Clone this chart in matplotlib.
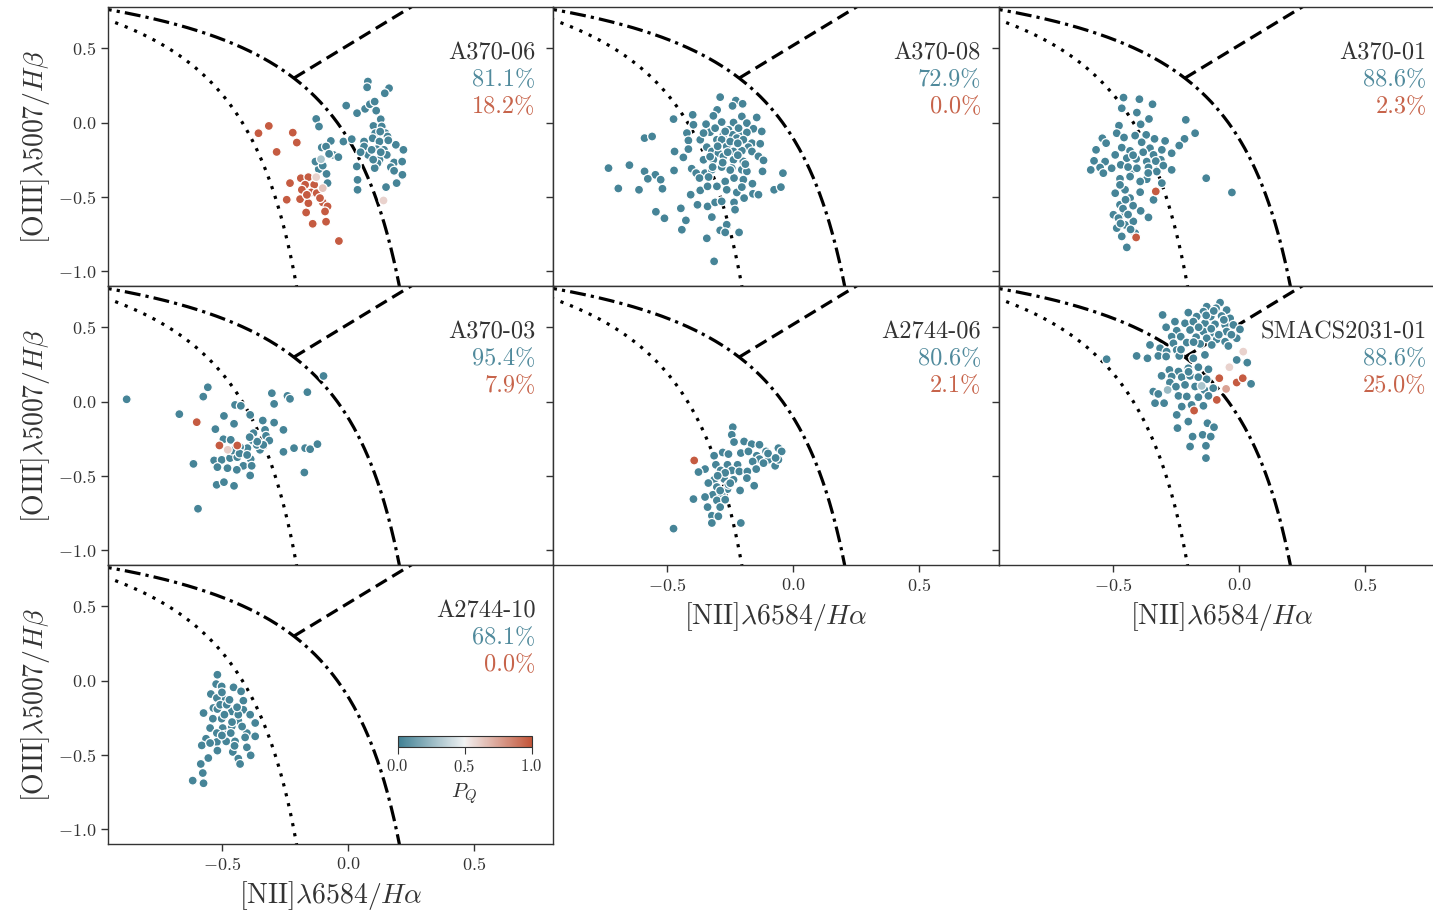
import numpy as np
import matplotlib
matplotlib.use("Agg")
import matplotlib.pyplot as plt
import seaborn as sns

plt.rcParams['font.family'] = ['cmr10']
plt.rcParams['mathtext.fontset'] = 'cm'
plt.rcParams['axes.formatter.use_mathtext'] = True

# ---- data: (log NII/Ha, log OIII/Hb) for each galaxy, split by P_Q ----
PQ_LOW = 0.02
PQ_HIGH = 0.98

a370_06_low = [(0.079, 0.276), (0.076, 0.237), (0.163, 0.231), (0.146, 0.197), (-0.007, 0.114),
               (0.036, 0.063), (0.068, 0.092), (0.087, 0.123), (0.106, 0.141), (0.112, 0.080),
               (0.130, 0.022), (0.101, -0.023), (0.134, -0.027), (-0.126, 0.024), (-0.115, -0.027),
               (-0.068, -0.124), (-0.018, -0.128), (0.015, -0.112), (0.064, -0.128), (0.108, -0.072),
               (0.149, -0.072), (0.098, -0.106), (0.157, -0.094), (0.125, -0.128), (0.114, -0.180),
               (0.143, -0.184), (0.190, -0.150), (0.220, -0.184), (0.154, -0.218), (0.125, -0.251),
               (0.080, -0.218), (0.117, -0.274), (0.183, -0.269), (0.215, -0.263), (0.170, -0.301),
               (0.183, -0.325), (0.216, -0.352), (0.193, -0.408), (0.151, -0.435), (0.106, -0.307),
               (0.035, -0.296), (0.038, -0.386), (0.038, -0.453), (-0.104, -0.168), (-0.087, -0.162),
               (-0.058, -0.218), (-0.038, -0.233), (-0.075, -0.211), (-0.116, -0.314), (-0.129, -0.263),
               (-0.085, -0.346), (-0.081, -0.408), (0.064, -0.162), (0.094, -0.184), (0.128, -0.061),
               (0.100, -0.250), (0.130, -0.200), (0.160, -0.120), (0.050, -0.200), (-0.100, -0.290)]
a370_06_high = [(-0.314, -0.023), (-0.355, -0.072), (-0.219, -0.068), (-0.203, -0.135), (-0.283, -0.198),
                (-0.230, -0.408), (-0.187, -0.375), (-0.157, -0.368), (-0.170, -0.419), (-0.134, -0.419),
                (-0.146, -0.471), (-0.183, -0.453), (-0.190, -0.516), (-0.243, -0.520), (-0.157, -0.543),
                (-0.124, -0.476), (-0.100, -0.538), (-0.081, -0.565), (-0.166, -0.606), (-0.091, -0.599),
                (-0.140, -0.682), (-0.087, -0.668), (-0.036, -0.798), (-0.111, -0.509), (-0.163, -0.487)]
a370_06_mid = [(-0.107, -0.247, 0.3), (-0.126, -0.368, 0.6), (-0.100, -0.442, 0.65), (0.141, -0.525, 0.6)]

a370_08_low = [(-0.290, 0.171), (-0.228, 0.148), (-0.201, 0.126), (-0.241, 0.112), (-0.302, 0.085),
               (-0.399, 0.052), (-0.317, 0.045), (-0.204, 0.041), (-0.145, 0.034), (-0.475, 0.023),
               (-0.346, -0.011), (-0.284, 0.003), (-0.237, 0.000), (-0.184, -0.004), (-0.396, -0.015),
               (-0.257, -0.049), (-0.158, -0.042), (-0.125, -0.060), (-0.330, -0.065), (-0.422, -0.071),
               (-0.277, -0.083), (-0.240, -0.083), (-0.204, -0.071), (-0.184, -0.067), (-0.590, -0.105),
               (-0.560, -0.094), (-0.416, -0.121), (-0.369, -0.116), (-0.303, -0.116), (-0.284, -0.116),
               (-0.224, -0.105), (-0.198, -0.116), (-0.164, -0.139), (-0.131, -0.143), (-0.416, -0.179),
               (-0.343, -0.166), (-0.264, -0.161), (-0.217, -0.168), (-0.178, -0.166), (-0.471, -0.195),
               (-0.323, -0.195), (-0.297, -0.206), (-0.237, -0.195), (-0.204, -0.190), (-0.164, -0.195),
               (-0.436, -0.235), (-0.356, -0.251), (-0.317, -0.251), (-0.277, -0.228), (-0.237, -0.251),
               (-0.198, -0.262), (-0.138, -0.228), (-0.118, -0.255), (-0.733, -0.307), (-0.650, -0.287),
               (-0.590, -0.329), (-0.547, -0.352), (-0.577, -0.379), (-0.526, -0.385), (-0.473, -0.323),
               (-0.403, -0.311), (-0.385, -0.341), (-0.350, -0.341), (-0.323, -0.318), (-0.284, -0.300),
               (-0.244, -0.307), (-0.204, -0.318), (-0.184, -0.329), (-0.122, -0.329), (-0.041, -0.341),
               (-0.372, -0.374), (-0.336, -0.367), (-0.270, -0.397), (-0.235, -0.374), (-0.198, -0.385),
               (-0.162, -0.412), (-0.694, -0.444), (-0.612, -0.453), (-0.519, -0.446), (-0.407, -0.486),
               (-0.369, -0.457), (-0.340, -0.430), (-0.303, -0.430), (-0.264, -0.453), (-0.224, -0.471),
               (-0.204, -0.435), (-0.195, -0.509), (-0.160, -0.480), (-0.138, -0.486), (-0.076, -0.453),
               (-0.049, -0.435), (-0.380, -0.554), (-0.340, -0.565), (-0.310, -0.538), (-0.284, -0.531),
               (-0.235, -0.538), (-0.231, -0.587), (-0.545, -0.601), (-0.511, -0.645), (-0.446, -0.578),
               (-0.426, -0.659), (-0.442, -0.722), (-0.323, -0.637), (-0.290, -0.726), (-0.264, -0.688),
               (-0.270, -0.740), (-0.215, -0.740), (-0.343, -0.780), (-0.314, -0.935), (-0.310, -0.038),
               (-0.217, -0.038), (-0.250, -0.128), (-0.356, -0.071), (-0.300, -0.160), (-0.260, -0.200),
               (-0.330, -0.230), (-0.220, -0.220), (-0.280, -0.270), (-0.250, -0.320), (-0.320, -0.300),
               (-0.190, -0.280), (-0.270, -0.060), (-0.220, -0.140)]
a370_08_high = []
a370_08_mid = []

a370_01_low = [(-0.458, 0.168), (-0.395, 0.157), (-0.343, 0.123), (-0.465, 0.096), (-0.405, 0.067),
               (-0.357, 0.024), (-0.211, 0.018), (-0.476, -0.021), (-0.390, -0.012), (-0.174, -0.072),
               (-0.485, -0.072), (-0.456, -0.101), (-0.412, -0.088), (-0.368, -0.083), (-0.335, -0.110),
               (-0.293, -0.124), (-0.542, -0.106), (-0.216, -0.110), (-0.237, -0.155), (-0.567, -0.184),
               (-0.527, -0.139), (-0.465, -0.169), (-0.432, -0.191), (-0.386, -0.133), (-0.353, -0.173),
               (-0.306, -0.184), (-0.267, -0.207), (-0.491, -0.218), (-0.445, -0.240), (-0.408, -0.245),
               (-0.366, -0.263), (-0.310, -0.251), (-0.575, -0.258), (-0.531, -0.263), (-0.469, -0.285),
               (-0.551, -0.303), (-0.505, -0.308), (-0.588, -0.319), (-0.425, -0.319), (-0.359, -0.303),
               (-0.326, -0.330), (-0.267, -0.319), (-0.538, -0.341), (-0.472, -0.379), (-0.432, -0.364),
               (-0.366, -0.382), (-0.392, -0.397), (-0.306, -0.408), (-0.491, -0.476), (-0.452, -0.453),
               (-0.392, -0.469), (-0.339, -0.521), (-0.472, -0.554), (-0.498, -0.621), (-0.452, -0.610),
               (-0.390, -0.595), (-0.359, -0.639), (-0.485, -0.711), (-0.452, -0.689), (-0.465, -0.767),
               (-0.445, -0.841), (-0.412, -0.745), (-0.130, -0.375), (-0.028, -0.471), (-0.472, -0.420),
               (-0.432, -0.509), (-0.478, -0.644), (-0.419, -0.666), (-0.405, -0.308), (-0.339, -0.218),
               (-0.460, -0.580), (-0.440, -0.620), (-0.470, -0.680), (-0.430, -0.720), (-0.450, -0.520),
               (-0.420, -0.560), (-0.420, -0.220), (-0.380, -0.200), (-0.330, -0.260), (-0.440, -0.300),
               (-0.360, -0.340), (-0.300, -0.290)]
a370_01_high = [(-0.330, -0.464), (-0.408, -0.774)]
a370_01_mid = []

a370_03_low = [(-0.878, 0.015), (-0.556, 0.096), (-0.574, 0.033), (-0.669, -0.085), (-0.526, -0.186),
               (-0.613, -0.420), (-0.595, -0.722), (-0.492, -0.097), (-0.452, -0.150), (-0.448, -0.023),
               (-0.425, -0.029), (-0.388, -0.090), (-0.338, -0.128), (-0.293, -0.142), (-0.256, -0.191),
               (-0.302, 0.056), (-0.293, -0.016), (-0.240, 0.038), (-0.230, 0.018), (-0.161, 0.063),
               (-0.097, 0.172), (-0.494, -0.254), (-0.465, -0.258), (-0.375, -0.213), (-0.329, -0.191),
               (-0.378, -0.263), (-0.325, -0.231), (-0.312, -0.263), (-0.399, -0.314), (-0.428, -0.307),
               (-0.349, -0.325), (-0.256, -0.339), (-0.214, -0.314), (-0.170, -0.314), (-0.150, -0.321),
               (-0.121, -0.287), (-0.531, -0.397), (-0.501, -0.393), (-0.468, -0.381), (-0.439, -0.375),
               (-0.415, -0.433), (-0.386, -0.388), (-0.382, -0.433), (-0.518, -0.442), (-0.478, -0.449),
               (-0.441, -0.460), (-0.388, -0.498), (-0.521, -0.561), (-0.492, -0.543), (-0.452, -0.568),
               (-0.173, -0.478), (-0.362, -0.292), (-0.336, -0.292), (-0.460, -0.330), (-0.430, -0.350),
               (-0.400, -0.360), (-0.360, -0.270), (-0.390, -0.240)]
a370_03_high = [(-0.600, -0.139), (-0.510, -0.296), (-0.439, -0.296)]
a370_03_mid = [(-0.477, -0.325, 0.62)]

a2744_06_low = [(-0.240, -0.173), (-0.244, -0.224), (-0.235, -0.273), (-0.195, -0.269), (-0.165, -0.287),
                (-0.134, -0.291), (-0.059, -0.314), (-0.046, -0.336), (-0.280, -0.343), (-0.257, -0.354),
                (-0.208, -0.347), (-0.178, -0.336), (-0.108, -0.336), (-0.314, -0.365), (-0.145, -0.365),
                (-0.134, -0.388), (-0.098, -0.392), (-0.072, -0.433), (-0.118, -0.415), (-0.161, -0.404),
                (-0.059, -0.392), (-0.261, -0.426), (-0.221, -0.426), (-0.307, -0.426), (-0.350, -0.455),
                (-0.376, -0.475), (-0.288, -0.464), (-0.244, -0.464), (-0.214, -0.471), (-0.182, -0.471),
                (-0.147, -0.455), (-0.314, -0.527), (-0.274, -0.522), (-0.237, -0.527), (-0.184, -0.516),
                (-0.337, -0.549), (-0.303, -0.576), (-0.261, -0.590), (-0.211, -0.599), (-0.155, -0.567),
                (-0.319, -0.628), (-0.284, -0.628), (-0.350, -0.643), (-0.396, -0.657), (-0.303, -0.666),
                (-0.340, -0.711), (-0.290, -0.711), (-0.323, -0.769), (-0.297, -0.773), (-0.323, -0.818),
                (-0.208, -0.818), (-0.475, -0.856), (-0.257, -0.560), (-0.270, -0.661), (-0.270, -0.480),
                (-0.300, -0.500), (-0.250, -0.550), (-0.290, -0.600), (-0.100, -0.350), (-0.070, -0.380)]
a2744_06_high = [(-0.393, -0.397)]
a2744_06_mid = []

smacs2031_01_low = [(-0.075, 0.666), (-0.128, 0.639), (-0.091, 0.628), (-0.049, 0.616), (-0.201, 0.599),
                    (-0.303, 0.583), (-0.141, 0.605), (-0.168, 0.572), (-0.112, 0.572), (-0.069, 0.576),
                    (-0.035, 0.560), (-0.254, 0.538), (-0.214, 0.527), (-0.181, 0.538), (-0.135, 0.527),
                    (-0.095, 0.520), (-0.055, 0.516), (-0.022, 0.516), (-0.289, 0.500), (-0.247, 0.477),
                    (-0.194, 0.482), (-0.141, 0.471), (-0.099, 0.460), (-0.049, 0.471), (0.004, 0.486),
                    (-0.267, 0.437), (-0.231, 0.437), (-0.170, 0.433), (-0.128, 0.426), (-0.088, 0.419),
                    (-0.055, 0.403), (-0.009, 0.426), (-0.260, 0.392), (-0.207, 0.397), (-0.154, 0.388),
                    (-0.108, 0.381), (-0.042, 0.374), (-0.353, 0.381), (-0.313, 0.359), (-0.287, 0.336),
                    (-0.247, 0.347), (-0.406, 0.307), (-0.363, 0.291), (-0.320, 0.307), (-0.289, 0.303),
                    (-0.237, 0.307), (-0.181, 0.291), (-0.135, 0.314), (-0.009, 0.280), (0.033, 0.262),
                    (-0.276, 0.213), (-0.240, 0.202), (-0.201, 0.224), (-0.161, 0.231), (-0.121, 0.217),
                    (-0.307, 0.173), (-0.267, 0.168), (-0.227, 0.164), (-0.194, 0.173), (-0.161, 0.164),
                    (-0.128, 0.150), (-0.274, 0.128), (-0.214, 0.112), (-0.174, 0.101), (-0.137, 0.078),
                    (-0.102, 0.090), (0.048, 0.119), (-0.240, 0.038), (-0.207, 0.034), (-0.161, 0.029),
                    (-0.121, 0.038), (-0.333, -0.011), (-0.297, -0.011), (-0.227, -0.034), (-0.188, -0.023),
                    (-0.141, -0.029), (-0.247, -0.090), (-0.201, -0.135), (-0.125, -0.146), (-0.099, -0.173),
                    (-0.244, -0.179), (-0.184, -0.236), (-0.144, -0.224), (-0.112, -0.236), (-0.194, -0.303),
                    (-0.131, -0.298), (-0.131, -0.381), (-0.525, 0.285), (-0.340, 0.067), (-0.320, 0.051),
                    (-0.130, 0.580), (-0.100, 0.610), (-0.060, 0.550), (-0.160, 0.500), (-0.110, 0.490),
                    (-0.080, 0.450), (-0.030, 0.450), (-0.180, 0.400), (-0.230, 0.350), (-0.200, 0.200),
                    (-0.250, 0.100)]
smacs2031_01_high = [(-0.078, 0.157), (-0.009, 0.128), (0.015, 0.157), (-0.088, 0.011), (-0.178, -0.061)]
smacs2031_01_mid = [(-0.283, 0.078, 0.25), (-0.148, 0.105, 0.3), (0.017, 0.336, 0.6),
                    (-0.038, 0.231, 0.6), (-0.051, 0.085, 0.75)]

a2744_10_low = [(-0.518, 0.039), (-0.523, -0.024), (-0.501, -0.040), (-0.454, -0.046), (-0.424, -0.073),
                (-0.544, -0.091), (-0.497, -0.114), (-0.520, -0.118), (-0.415, -0.136), (-0.534, -0.185),
                (-0.518, -0.192), (-0.461, -0.208), (-0.415, -0.197), (-0.388, -0.230), (-0.573, -0.219),
                (-0.501, -0.257), (-0.536, -0.257), (-0.435, -0.271), (-0.368, -0.286), (-0.547, -0.320),
                (-0.497, -0.320), (-0.461, -0.309), (-0.401, -0.354), (-0.368, -0.376), (-0.520, -0.354),
                (-0.487, -0.365), (-0.465, -0.354), (-0.563, -0.392), (-0.520, -0.414), (-0.580, -0.437),
                (-0.547, -0.421), (-0.483, -0.410), (-0.448, -0.410), (-0.408, -0.383), (-0.401, -0.450),
                (-0.457, -0.481), (-0.518, -0.472), (-0.554, -0.522), (-0.435, -0.526), (-0.386, -0.504),
                (-0.584, -0.562), (-0.576, -0.623), (-0.428, -0.562), (-0.616, -0.674), (-0.573, -0.692),
                (-0.507, -0.163), (-0.481, -0.163), (-0.435, -0.230), (-0.500, -0.080), (-0.470, -0.130),
                (-0.440, -0.180), (-0.490, -0.230), (-0.460, -0.280), (-0.420, -0.310), (-0.500, -0.370),
                (-0.450, -0.440)]
a2744_10_high = []
a2744_10_mid = []

names = ['A370-06', 'A370-08', 'A370-01', 'A370-03', 'A2744-06', 'SMACS2031-01', 'A2744-10']
sf_frac = ['81.1%', '72.9%', '88.6%', '95.4%', '80.6%', '88.6%', '68.1%']
q_frac = ['18.2%', '0.0%', '2.3%', '7.9%', '2.1%', '25.0%', '0.0%']
low_sets = [a370_06_low, a370_08_low, a370_01_low, a370_03_low, a2744_06_low, smacs2031_01_low, a2744_10_low]
high_sets = [a370_06_high, a370_08_high, a370_01_high, a370_03_high, a2744_06_high, smacs2031_01_high, a2744_10_high]
mid_sets = [a370_06_mid, a370_08_mid, a370_01_mid, a370_03_mid, a2744_06_mid, smacs2031_01_mid, a2744_10_mid]

cmap = sns.diverging_palette(220, 20, as_cmap=True)


def kauffmann(x):
    return 0.61 / (x - 0.05) + 1.3


def kewley(x):
    return 0.61 / (x - 0.47) + 1.19


fig = plt.figure(figsize=(14.33, 9.15), dpi=100)
W, H = 1433.0, 915.0
lefts = [108, 553.3, 999]
tops = [7.3, 286.3, 565.3]
pw, ph = 445.4, 279.0

xl = r'[NII]$\lambda6584/H\alpha$'
yl = r'[OIII]$\lambda5007/H\beta$'

xk = np.linspace(-1.0, 0.0, 300)
xw = np.linspace(-1.0, 0.3, 400)
# kink of the Seyfert/LINER line on the Kewley curve
xs = np.linspace(-0.2146, 0.9, 50)

for i in range(7):
    r, c = divmod(i, 3)
    ax = fig.add_axes([lefts[c] / W, 1 - (tops[r] + ph) / H, pw / W, ph / H])
    ax.plot(xk, kauffmann(xk), color='k', lw=2.3, ls=(0, (1, 2.2)))
    ax.plot(xw, kewley(xw), color='k', lw=2.3, ls=(0, (5, 1.6, 1, 1.6)))
    ax.plot(xs, 1.03 * xs + 0.52, color='k', lw=2.3, ls=(0, (4, 2)))

    pts = [(x, y, PQ_LOW) for x, y in low_sets[i]] + [(x, y, PQ_HIGH) for x, y in high_sets[i]] + mid_sets[i]
    arr = np.array(pts)
    sc = ax.scatter(arr[:, 0], arr[:, 1], c=arr[:, 2], cmap=cmap, vmin=0, vmax=1,
                    s=42, edgecolors='white', linewidths=0.9, zorder=3)

    ax.set_xlim(-0.952, 0.815)
    ax.set_ylim(-1.103, 0.776)
    ax.set_xticks([-0.5, 0.0, 0.5])
    ax.set_yticks([-1.0, -0.5, 0.0, 0.5])
    ax.tick_params(labelsize=13, colors='#333333', length=5, width=1)
    for sp in ax.spines.values():
        sp.set_color('#333333')
        sp.set_linewidth(1.0)

    if c == 0:
        ax.set_ylabel(yl, fontsize=20, color='#333333')
    else:
        ax.tick_params(labelleft=False)
    if i >= 4:
        ax.set_xlabel(xl, fontsize=20, color='#333333', labelpad=4)
    else:
        ax.tick_params(labelbottom=False, bottom=False)

    ax.text(0.96, 0.836, names[i], transform=ax.transAxes, ha='right', va='center',
            fontsize=17.5, color='#333333')
    ax.text(0.96, 0.740, sf_frac[i], transform=ax.transAxes, ha='right', va='center',
            fontsize=17.5, color=cmap(0.05))
    ax.text(0.96, 0.643, q_frac[i], transform=ax.transAxes, ha='right', va='center',
            fontsize=17.5, color=cmap(0.95))

    if i == 6:
        cax = ax.inset_axes([0.650, 0.350, 0.301, 0.0394])
        cb = fig.colorbar(sc, cax=cax, orientation='horizontal')
        cb.set_ticks([0.0, 0.5, 1.0])
        cb.ax.tick_params(labelsize=12, colors='#333333', length=5)
        cb.outline.set_edgecolor('#333333')
        cb.set_label(r'$P_Q$', fontsize=15, color='#333333')

fig.savefig('out.png', dpi=100)
